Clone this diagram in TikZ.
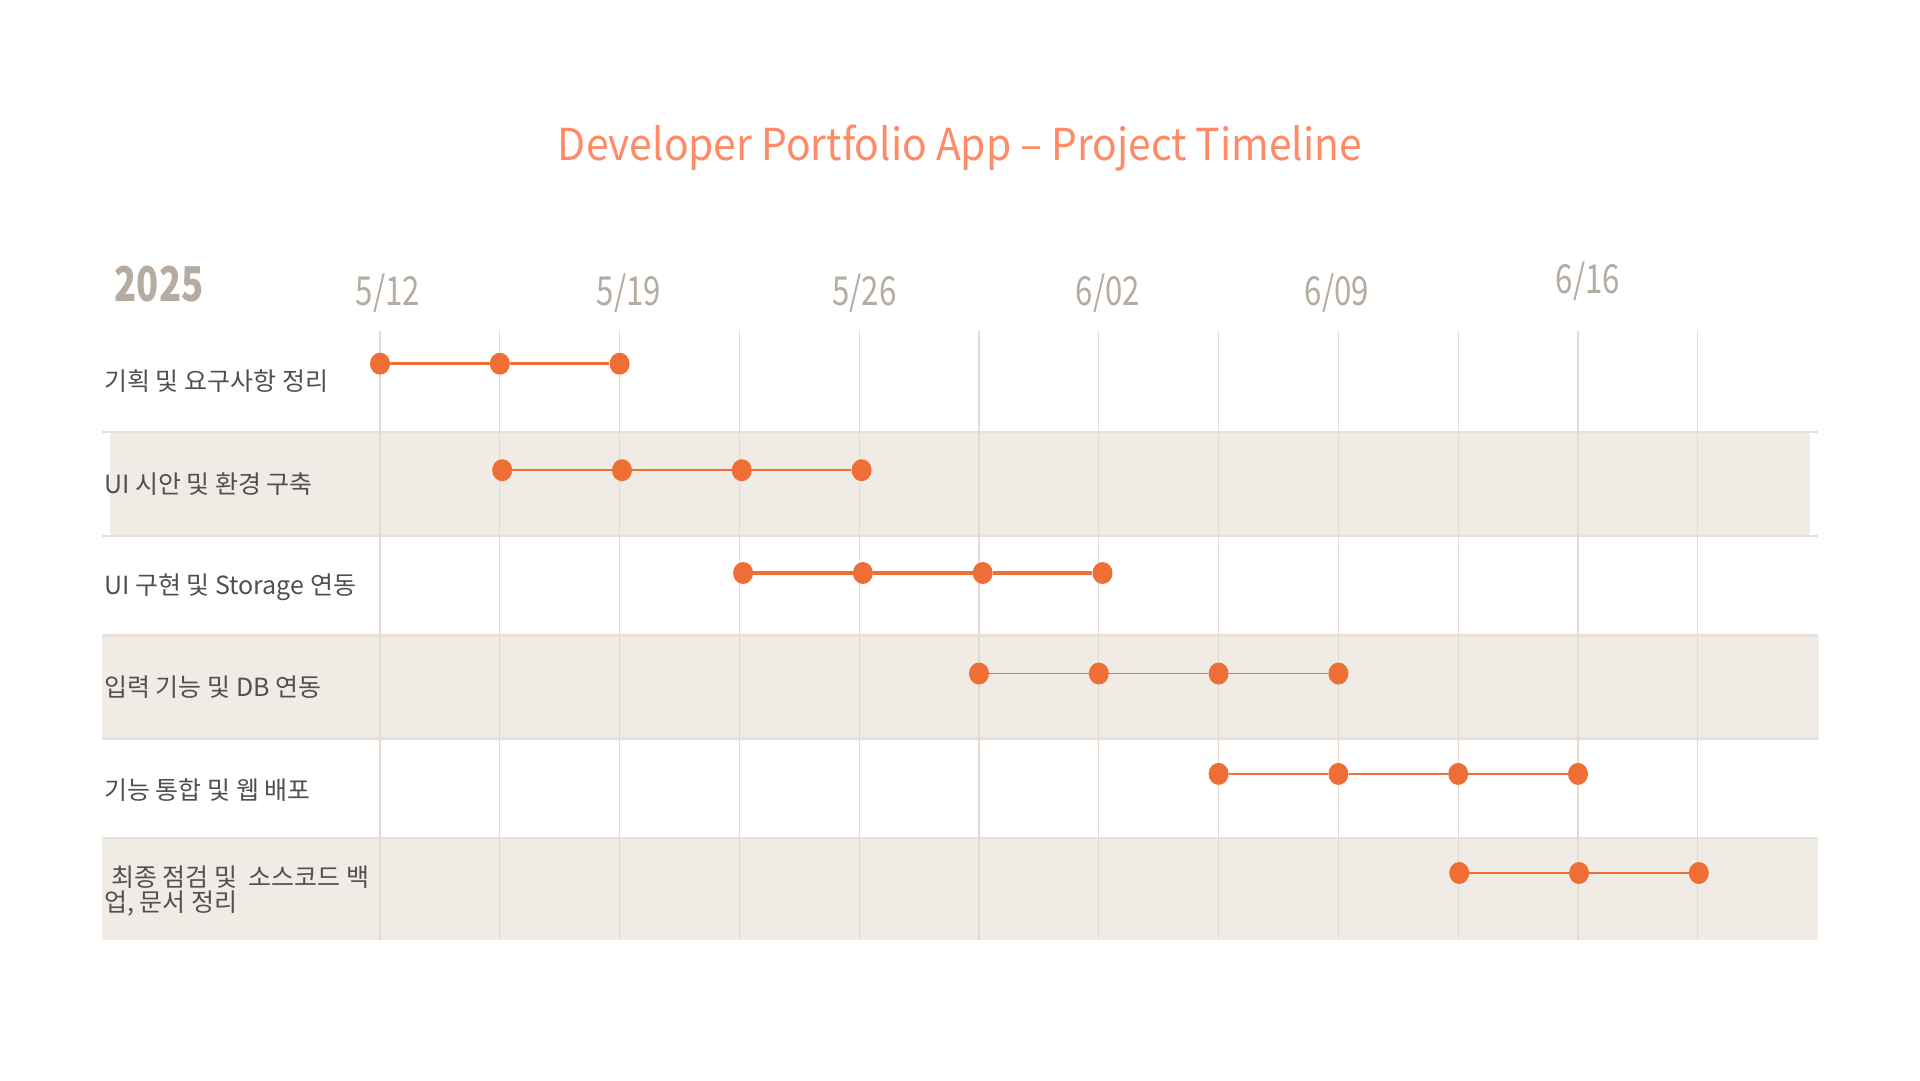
\documentclass[tikz,border=0pt]{standalone}
\usepackage{fontspec}
\setmainfont{Noto Sans CJK KR}
\newfontfamily\datefont[FakeStretch=0.78]{Noto Sans CJK KR}
\newfontfamily\yearfont[FakeStretch=0.76]{Noto Sans CJK KR}
\newfontfamily\titlefont[FakeStretch=0.926]{Noto Sans CJK KR}
\usetikzlibrary{shapes.geometric}
\definecolor{titlec}{HTML}{FF8A66}
\definecolor{datec}{HTML}{B5ABA1}
\definecolor{dotc}{HTML}{EE6E35}
\definecolor{bandc}{HTML}{F0EBE5}
\definecolor{gridc}{HTML}{E2DAD3}
\definecolor{sepc}{HTML}{E8E1DA}
\definecolor{labc}{HTML}{505050}
\tikzset{
  band/.style={fill=bandc, draw=none},
  gridline/.style={draw=gridc, line width=1.1pt},
  sepline/.style={draw=sepc, line width=2.2pt},
  lab/.style={anchor=west, inner sep=0pt, text=labc, font=\fontsize{25}{30}\selectfont},
  datelab/.style={inner sep=0pt, text=datec, font=\datefont\fontsize{40}{44}\selectfont},
  yearlab/.style={inner sep=0pt, text=datec, font=\yearfont\bfseries\fontsize{48}{52}\selectfont},
  dotn/.style={ellipse, fill=dotc, draw=none, minimum width=20pt, minimum height=22pt, inner sep=0pt},
  seg/.style={draw=dotc, line width=#1},
  seg/.default=1.8pt
}
\begin{document}
\begin{tikzpicture}[x=1pt,y=-1pt]
\useasboundingbox (0,0) rectangle (1920,1080);
\fill[white] (0,0) rectangle (1920,1080);

% title
\node[inner sep=0pt, text=titlec, font=\titlefont\fontsize{44}{50}\selectfont] (title) at (960,148.5) {Developer Portfolio App – Project Timeline};

% bands
\fill[band] (110,432.3) rectangle (1810,536.3);
\fill[band] (101.6,635.5) rectangle (1819,738.4);
\fill[band] (101.6,837.6) rectangle (1818,940.4);

% separators
\foreach \yy in {432.3,536.3,635.5,738.4,837.6}
  \draw[sepline] (101.6,\yy) -- (1818,\yy);

% grid
\foreach \i in {0,...,11}
  \draw[gridline] ({380+119.8*\i},330.6) -- ({380+119.8*\i},940.4);

% header
\node[yearlab] (year) at (159,284) {2025};
\node[datelab] (d1) at (388,293.5) {5/12};
\node[datelab] (d2) at (629,293.5) {5/19};
\node[datelab] (d3) at (864.5,293.5) {5/26};
\node[datelab] (d4) at (1108,293.5) {6/02};
\node[datelab] (d5) at (1337,293.5) {6/09};
\node[datelab] (d6) at (1588,281.5) {6/16};

% labels
\node[lab] (l1) at (104,381) {기획 및 요구사항 정리};
\node[lab] (l2) at (104,484) {UI 시안 및 환경 구축};
\node[lab] (l3) at (104,587) {UI 구현 및 Storage 연동};
\node[lab] (l4) at (104,687) {입력 기능 및 DB 연동};
\node[lab] (l5) at (104,790) {기능 통합 및 웹 배포};
\node[lab, align=left, font=\fontsize{25}{25}\selectfont] (l6) at (104,891) {\hspace*{7pt}최종 점검 및\ \ 소스코드 백\\업, 문서 정리};

% row 1
\node[dotn] (a1) at ({380+119.8*0},363.7) {};
\node[dotn] (a2) at ({380+119.8*1},363.7) {};
\node[dotn] (a3) at ({380+119.8*2},363.7) {};
\draw[seg=2.6pt] (a1) -- (a2) -- (a3);
% row 2
\node[dotn] (b1) at ({382.4+119.8*1},470.2) {};
\node[dotn] (b2) at ({382.4+119.8*2},470.2) {};
\node[dotn] (b3) at ({382.4+119.8*3},470.2) {};
\node[dotn] (b4) at ({382.4+119.8*4},470.2) {};
\draw[seg] (b1) -- (b2) -- (b3) -- (b4);
% row 3
\node[dotn] (c1) at ({383.7+119.8*3},573) {};
\node[dotn] (c2) at ({383.7+119.8*4},573) {};
\node[dotn] (c3) at ({383.7+119.8*5},573) {};
\node[dotn] (c4) at ({383.7+119.8*6},573) {};
\draw[seg=3.4pt] (c1) -- (c2) -- (c3) -- (c4);
% row 4
\node[dotn] (e1) at ({380+119.8*5},673.5) {};
\node[dotn] (e2) at ({380+119.8*6},673.5) {};
\node[dotn] (e3) at ({380+119.8*7},673.5) {};
\node[dotn] (e4) at ({380+119.8*8},673.5) {};
\draw[seg] (e1) -- (e2) -- (e3) -- (e4);
% row 5
\node[dotn] (f1) at ({380+119.8*7},773.9) {};
\node[dotn] (f2) at ({380+119.8*8},773.9) {};
\node[dotn] (f3) at ({380+119.8*9},773.9) {};
\node[dotn] (f4) at ({380+119.8*10},773.9) {};
\draw[seg] (f1) -- (f2) -- (f3) -- (f4);
% row 6
\node[dotn] (g1) at ({381+119.8*9},873) {};
\node[dotn] (g2) at ({381+119.8*10},873) {};
\node[dotn] (g3) at ({381+119.8*11},873) {};
\draw[seg=2.2pt] (g1) -- (g2) -- (g3);
\end{tikzpicture}
\end{document}
